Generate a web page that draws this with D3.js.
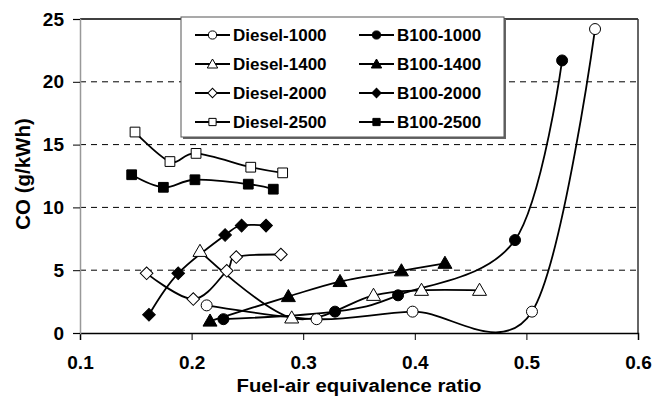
<!DOCTYPE html>
<html>
<head>
<meta charset="utf-8">
<script src="https://cdn.jsdelivr.net/npm/d3@7"></script>
<style>
  body { margin: 0; background: #fff; }
  svg text { font-family: "Liberation Sans", Arial, sans-serif; font-weight: bold; fill: #000; }
</style>
</head>
<body>
<svg id="chart" width="668" height="398"></svg>
<script>
// values
const seriesNames = ['Diesel-1000', 'B100-1000', 'Diesel-1400', 'B100-1400',
  'Diesel-2000', 'B100-2000', 'Diesel-2500', 'B100-2500'];

const diesel1000 = [[0.2135, 2.2], [0.312, 1.1], [0.398, 1.7], [0.505, 1.7], [0.5615, 24.2]];
const b1001000 = [[0.2285, 1.1], [0.3285, 1.7], [0.385, 3.0], [0.4898, 7.4], [0.532, 21.7]];
const diesel1400 = [[0.2075, 6.5], [0.2897, 1.2], [0.363, 3.0], [0.406, 3.4], [0.458, 3.4]];
const b1001400 = [[0.2165, 0.95], [0.2867, 2.9], [0.333, 4.1], [0.388, 4.95], [0.427, 5.55]];
const diesel2000 = [[0.1597, 4.75], [0.2015, 2.7], [0.2315, 4.95], [0.24, 6.05], [0.28, 6.25]];
const b1002000 = [[0.1618, 1.45], [0.188, 4.75], [0.23, 7.8], [0.2448, 8.55], [0.2667, 8.55]];
const diesel2500 = [[0.1493, 16.0], [0.1806, 13.65], [0.204, 14.3], [0.253, 13.2], [0.2816, 12.75]];
const b1002500 = [[0.1463, 12.6], [0.1747, 11.6], [0.203, 12.2], [0.2508, 11.85], [0.2732, 11.45]];

const xTicks = [0.1, 0.2, 0.3, 0.4, 0.5, 0.6];
const yTicks = [0, 5, 10, 15, 20, 25];

const series = [
  { name: seriesNames[0], data: diesel1000, shape: 'circle', filled: false },
  { name: seriesNames[1], data: b1001000, shape: 'circle', filled: true },
  { name: seriesNames[2], data: diesel1400, shape: 'triangle', filled: false },
  { name: seriesNames[3], data: b1001400, shape: 'triangle', filled: true },
  { name: seriesNames[4], data: diesel2000, shape: 'diamond', filled: false },
  { name: seriesNames[5], data: b1002000, shape: 'diamond', filled: true },
  { name: seriesNames[6], data: diesel2500, shape: 'square', filled: false },
  { name: seriesNames[7], data: b1002500, shape: 'square', filled: true }
];

const plot = { left: 80, right: 638, top: 19, bottom: 333 };
const svg = d3.select('#chart');

const x = d3.scaleLinear().domain([0.1, 0.6]).range([plot.left, plot.right]);
const y = d3.scaleLinear().domain([0, 25]).range([plot.bottom, plot.top]);

// dashed gridlines
svg.append('g')
  .selectAll('line')
  .data(yTicks.filter(d => d > 0 && d < 25))
  .join('line')
  .attr('x1', plot.left).attr('x2', plot.right)
  .attr('y1', d => y(d)).attr('y2', d => y(d))
  .attr('stroke', '#000').attr('stroke-width', 1)
  .attr('stroke-dasharray', '6,5');

// frame: top and right solid
svg.append('line')
  .attr('x1', plot.left).attr('x2', plot.right)
  .attr('y1', plot.top).attr('y2', plot.top)
  .attr('stroke', '#000').attr('stroke-width', 1.5);
svg.append('line')
  .attr('x1', plot.right).attr('x2', plot.right)
  .attr('y1', plot.top).attr('y2', plot.bottom)
  .attr('stroke', '#333').attr('stroke-width', 1.5);

// axes
const xAxis = svg.append('g')
  .attr('transform', `translate(0,${plot.bottom})`)
  .call(d3.axisBottom(x).tickValues(xTicks).tickFormat(d3.format('.1f')).tickSize(7).tickPadding(15.5));
xAxis.select('.domain').attr('stroke', '#000').attr('stroke-width', 1.5);
xAxis.selectAll('.tick line').attr('stroke', '#000');
xAxis.selectAll('text').style('font-size', '19px');

const yAxis = svg.append('g')
  .attr('transform', `translate(${plot.left},0)`)
  .call(d3.axisLeft(y).tickValues(yTicks).tickFormat(d3.format('d')).tickSize(7).tickPadding(9));
yAxis.select('.domain').attr('stroke', '#999').attr('stroke-width', 1.5);
yAxis.selectAll('.tick line').attr('stroke', '#000');
yAxis.selectAll('text').style('font-size', '19px');

// axis titles
svg.append('text')
  .attr('transform', `translate(${(plot.left + plot.right) / 2},392) scale(1.07,1)`)
  .attr('text-anchor', 'middle')
  .style('font-size', '19px')
  .text('Fuel-air equivalence ratio');

svg.append('text')
  .attr('transform', 'translate(30,174) rotate(-90)')
  .attr('text-anchor', 'middle')
  .style('font-size', '20.5px')
  .text('CO (g/kWh)');

// series lines
svg.append('clipPath').attr('id', 'plot-clip')
  .append('rect')
  .attr('x', plot.left).attr('y', plot.top)
  .attr('width', plot.right - plot.left).attr('height', plot.bottom - plot.top);

const line = d3.line()
  .x(d => x(d[0]))
  .y(d => y(d[1]))
  .curve(d3.curveCardinal.tension(0));

const symbolType = {
  circle: d3.symbolCircle,
  triangle: d3.symbolTriangle,
  diamond: d3.symbolSquare,
  square: d3.symbolSquare
};
const symbolSize = { circle: 95, triangle: 85, diamond: 80, square: 95 };

const drawMarker = (g, s, cx, cy, scale) => {
  const sym = d3.symbol().type(symbolType[s.shape]).size(symbolSize[s.shape] * scale);
  const rot = s.shape === 'diamond' ? ' rotate(45)' : '';
  const dy = s.shape === 'triangle' ? 1 : 0;
  g.append('path')
    .attr('d', sym())
    .attr('transform', `translate(${cx},${cy + dy})${rot}`)
    .attr('fill', s.filled ? '#000' : '#fff')
    .attr('stroke', '#000')
    .attr('stroke-width', 1);
};

const seriesG = svg.append('g');
series.forEach(s => {
  seriesG.append('path')
    .datum(s.data)
    .attr('clip-path', 'url(#plot-clip)')
    .attr('fill', 'none')
    .attr('stroke', '#000')
    .attr('stroke-width', 1.8)
    .attr('d', line);
});
series.forEach(s => {
  s.data.forEach(d => drawMarker(seriesG, s, x(d[0]), y(d[1]), 1));
});

// legend
const legend = { x: 181, y: 17, w: 323, h: 120 };
svg.append('rect')
  .attr('x', legend.x + 2).attr('y', legend.y + 2)
  .attr('width', legend.w).attr('height', legend.h)
  .attr('fill', '#666');
svg.append('rect')
  .attr('x', legend.x).attr('y', legend.y)
  .attr('width', legend.w).attr('height', legend.h)
  .attr('fill', '#fff').attr('stroke', '#555').attr('stroke-width', 1);

const legendG = svg.append('g');
series.forEach((s, i) => {
  const col = i % 2;
  const row = Math.floor(i / 2);
  const lx = col === 0 ? 195 : 359;
  const ly = 35 + row * 29;
  legendG.append('line')
    .attr('x1', lx).attr('x2', lx + 35)
    .attr('y1', ly).attr('y2', ly)
    .attr('stroke', '#000').attr('stroke-width', 1.8);
  drawMarker(legendG, s, lx + 17.5, ly, 0.55);
  legendG.append('text')
    .attr('x', lx + 38).attr('y', ly + 6)
    .style('font-size', '17px')
    .text(s.name);
});
</script>
</body>
</html>
